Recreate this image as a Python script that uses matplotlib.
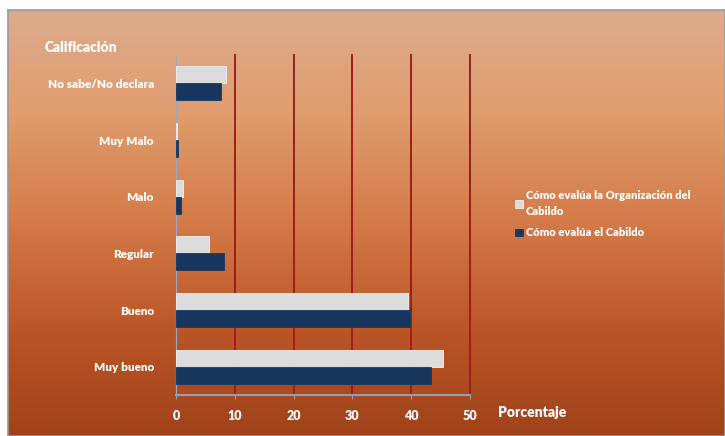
import numpy as np
import matplotlib.pyplot as plt
from matplotlib.colors import LinearSegmentedColormap

categories = ['Muy bueno', 'Bueno', 'Regular', 'Malo', 'Muy Malo', 'No sabe/No declara']
organizacion = [45.4, 39.5, 5.6, 1.2, 0.2, 8.5]
cabildo = [43.3, 39.8, 8.2, 0.9, 0.3, 7.7]
series_names = ['Cómo evalúa la Organización del\nCabildo', 'Cómo evalúa el Cabildo']
xticks = [0, 10, 20, 30, 40, 50]

plt.rcParams['font.family'] = ['Lato', 'DejaVu Sans']
plt.rcParams['font.weight'] = 'heavy'

fig = plt.figure(figsize=(7.25, 4.36), dpi=100)
fig.patch.set_facecolor('white')

# gradient background
bg = fig.add_axes([8 / 725, 0, 1 - 8 / 725, 1 - 10 / 436])
cmap = LinearSegmentedColormap.from_list('bg', ['#dcac8e', '#e09c6c', '#d37a48', '#bb5626', '#a0421a'])
grad = np.linspace(0, 1, 256).reshape(-1, 1)
bg.imshow(grad, aspect='auto', cmap=cmap, extent=[0, 1, 0, 1], origin='upper')
bg.set_xticks([])
bg.set_yticks([])
for s in bg.spines.values():
    s.set_color('#9a9a9a')
    s.set_linewidth(1.2)

ax = fig.add_axes([176 / 725, 41 / 436, 294 / 725, 340 / 436])
ax.patch.set_alpha(0)
y = np.arange(len(categories))
h = 0.3
ax.barh(y + h / 2, organizacion, h, color='#dcdcdc', edgecolor='#f0f0f0', linewidth=0.6, label=series_names[0], zorder=3)
ax.barh(y - h / 2, cabildo, h, color='#17375e', edgecolor='#17375e', linewidth=0.6, label=series_names[1], zorder=3)

ax.set_xlim(0, 50)
ax.set_ylim(-0.5, len(categories) - 0.5)
ax.set_xticks(xticks)
ax.set_xticklabels([str(t) for t in xticks], color='white', fontsize=9)
ax.set_yticks(y)
ax.set_yticklabels(categories, color='white', fontsize=8.5)
ax.tick_params(axis='y', length=0, pad=16)
ax.tick_params(axis='x', length=3, color='#8fa0b8', pad=8)
for xv in xticks[1:]:
    ax.axvline(xv, color='#a01c1c', linewidth=1.4, zorder=1, clip_on=False)
for s in ['top', 'right']:
    ax.spines[s].set_visible(False)
ax.spines['left'].set_color('#a0a8b8')
ax.spines['bottom'].set_color('#8fa0b8')
ax.spines['bottom'].set_linewidth(1.5)

fig.text(45 / 725, 1 - 47 / 436, 'Calificación', color='white', fontsize=10, ha='left', va='center')
fig.text(498 / 725, 1 - 412 / 436, 'Porcentaje', color='white', fontsize=10, ha='left', va='center')

leg = fig.legend(loc='upper left', bbox_to_anchor=(505 / 725, 1 - 180 / 436), frameon=False,
                 fontsize=8, handlelength=0.7, handleheight=0.7, handletextpad=0.3, labelspacing=0.9)
for t in leg.get_texts():
    t.set_color('white')
    t.set_linespacing(1.6)

fig.savefig('out.png', dpi=100)
